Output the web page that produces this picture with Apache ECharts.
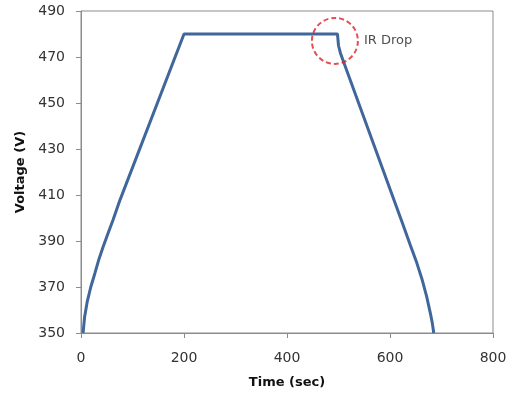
<!DOCTYPE html>
<html>
<head>
<meta charset="utf-8">
<script src="https://cdn.jsdelivr.net/npm/echarts@6/dist/echarts.min.js"></script>
<style>
  html, body { margin: 0; padding: 0; background: #fff; }
  #chart { width: 512px; height: 394px; }
</style>
</head>
<body>
<div id="chart"></div>
<script>
var timeSec = [4, 7, 12, 19, 27, 34, 43, 52, 62, 76, 200, 498, 500, 504, 513, 623, 639, 652, 662, 671, 678, 682, 685];
var voltage = [350, 357, 363.5, 370, 376, 381.5, 387.5, 393, 399, 408, 480, 480, 475, 471.5, 466, 398.5, 388.5, 380.5, 373.5, 366, 359, 354.5, 350];
var circleAt = [493, 477];
var circleText = 'IR Drop';

var data = [];
for (var i = 0; i < timeSec.length; i++) {
    data.push([timeSec[i], voltage[i]]);
}

var chart = echarts.init(document.getElementById('chart'));

var axisFont = { fontFamily: 'DejaVu Sans', fontSize: 14, color: '#333' };
var nameFont = { fontFamily: 'DejaVu Sans', fontSize: 13, fontWeight: 'bold', color: '#111' };

option = {
    animation: false,
    grid: {
        left: 81,
        right: 19,
        top: 11,
        bottom: 61,
        show: true,
        borderColor: '#8c8c8c',
        borderWidth: 1
    },
    xAxis: {
        type: 'value',
        min: 0,
        max: 800,
        interval: 200,
        name: 'Time (sec)',
        nameLocation: 'middle',
        nameGap: 43,
        nameTextStyle: nameFont,
        axisLine: { lineStyle: { color: '#8c8c8c', width: 1 } },
        axisTick: { show: true, length: 5, lineStyle: { color: '#8c8c8c' } },
        axisLabel: Object.assign({ margin: 18 }, axisFont),
        splitLine: { show: false }
    },
    yAxis: {
        type: 'value',
        min: 350,
        max: 490,
        interval: 20,
        name: 'Voltage (V)',
        nameLocation: 'middle',
        nameGap: 52,
        nameTextStyle: nameFont,
        axisLine: { show: true, lineStyle: { color: '#8c8c8c', width: 1 } },
        axisTick: { show: true, length: 5, lineStyle: { color: '#8c8c8c' } },
        axisLabel: Object.assign({ margin: 16 }, axisFont),
        splitLine: { show: false }
    },
    series: [{
        type: 'line',
        data: data,
        showSymbol: false,
        lineStyle: { color: '#40679b', width: 3 },
        z: 2
    }, {
        type: 'scatter',
        data: [circleAt],
        symbol: 'circle',
        symbolSize: 46,
        itemStyle: {
            color: 'rgba(0,0,0,0)',
            borderColor: '#e0202a',
            borderWidth: 2,
            borderType: [5, 3]
        },
        label: {
            show: true,
            position: 'right',
            distance: 5,
            formatter: circleText,
            fontFamily: 'DejaVu Sans',
            fontSize: 13,
            color: '#222'
        },
        z: 3
    }]
};

chart.setOption(option);
</script>
</body>
</html>
